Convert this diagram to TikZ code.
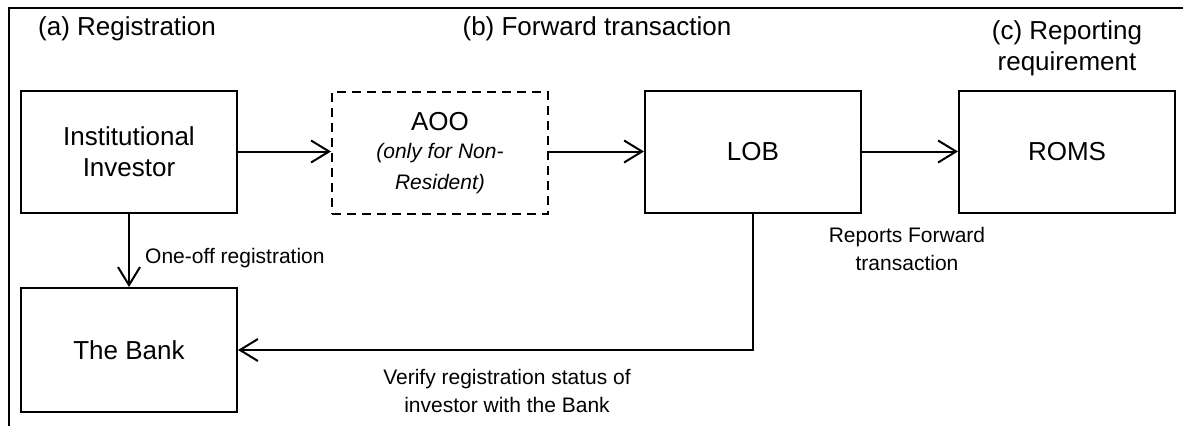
\documentclass[tikz,border=0pt]{standalone}
\usepackage{fontspec}
\setmainfont{Liberation Sans}
\usetikzlibrary{arrows.meta}
\tikzset{
  boxnode/.style={draw, line width=2pt, minimum width=216pt, minimum height=122pt, align=center, inner sep=0pt, font=\fontsize{26}{31}\selectfont},
  dashbox/.style={boxnode, dash pattern=on 9pt off 6pt},
  titletext/.style={align=center, inner sep=0pt, font=\fontsize{26}{31}\selectfont},
  labeltext/.style={align=center, inner sep=0pt, font=\fontsize{21}{28}\selectfont},
  conn/.style={line width=2pt, -{Straight Barb[length=18pt,width=22pt]}},
  framel/.style={line width=2pt}
}
\begin{document}
\begin{tikzpicture}[x=1pt,y=-1pt]
\useasboundingbox (0,0) rectangle (1183,426);
% frame
\coordinate (ftl) at (9,8);
\coordinate (ftr) at (1183,8);
\coordinate (fbl) at (9,426);
\draw[framel] (ftr) -- (ftl) -- (fbl);
% titles
\node[titletext, anchor=west] (ta) at (38,29) {(a) Registration};
\node[titletext] (tb) at (597,29) {(b) Forward transaction};
\node[titletext] (tc) at (1067,48) {(c) Reporting\\requirement};
% boxes
\node[boxnode] (inst) at (129,151.5) {Institutional\\Investor};
\node[dashbox] (aoo) at (440,153) {AOO\\[-3pt]{\fontsize{21}{28}\selectfont\itshape (only for Non-}\\{\fontsize{21}{28}\selectfont\itshape Resident)}};
\node[boxnode] (lob) at (753,151.5) {LOB};
\node[boxnode] (roms) at (1067,151.5) {ROMS};
\node[boxnode, minimum height=124pt] (bank) at (129,350) {The Bank};
% connectors
\draw[conn] (inst.east) -- (aoo.west |- inst.east);
\draw[conn] (aoo.east |- lob.west) -- (lob.west);
\draw[conn] (lob.east) -- (roms.west);
\draw[conn] (inst.south) -- (bank.north);
\coordinate (corner) at (lob.south |- bank.east);
\draw[conn] (lob.south) -- (corner) -- (bank.east);
% labels
\node[labeltext, anchor=west] (l1) at (145,258) {One-off registration};
\node[labeltext] (l2) at (907,249) {Reports Forward\\transaction};
\node[labeltext] (l3) at (507,391) {Verify registration status of\\investor with the Bank};
\end{tikzpicture}
\end{document}
